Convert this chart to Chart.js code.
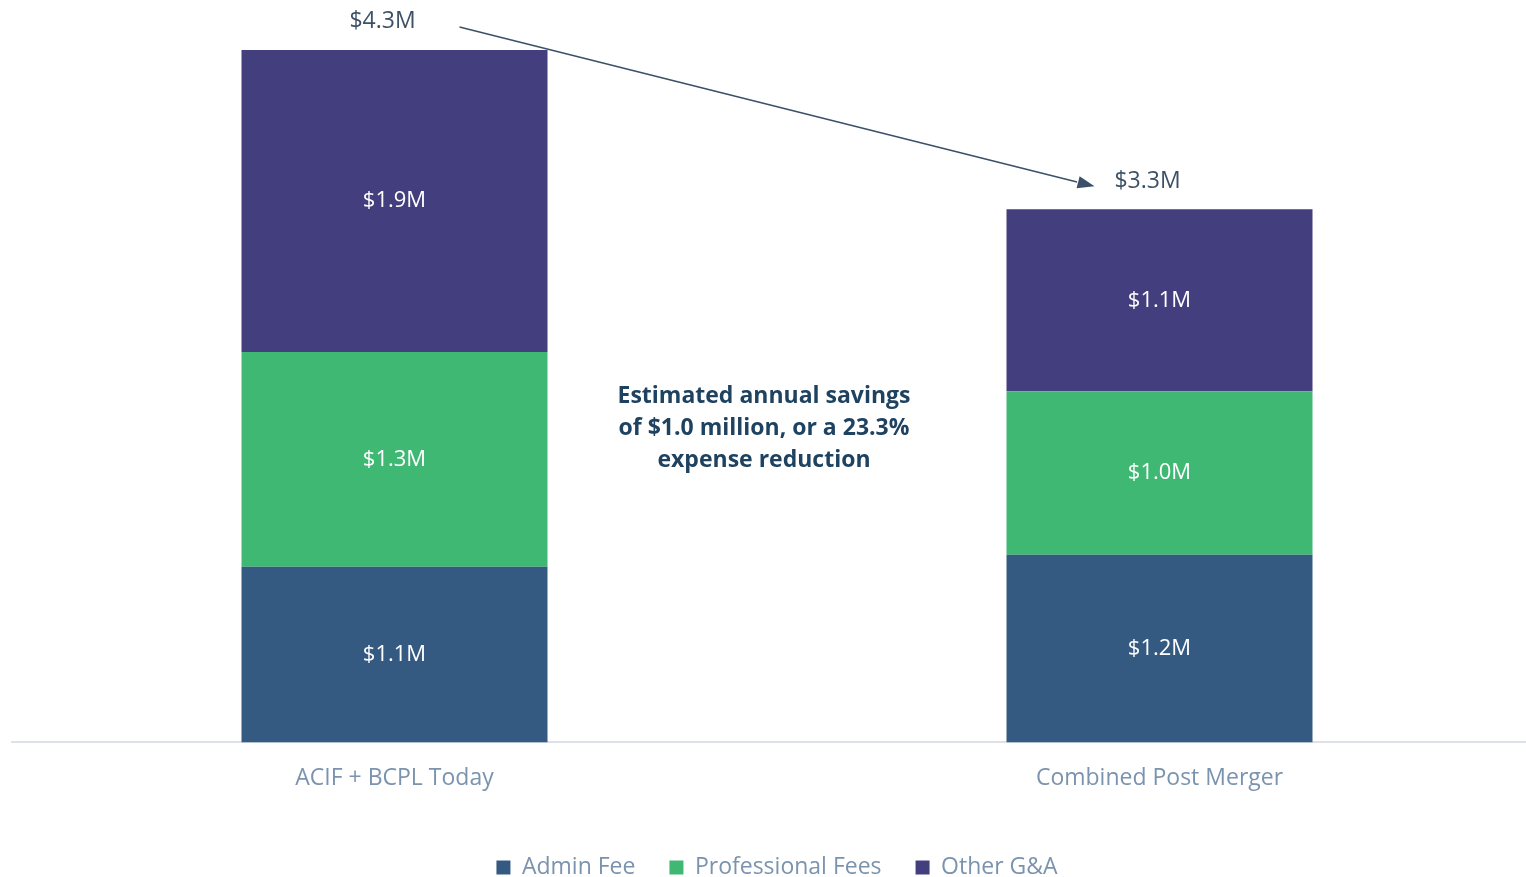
<!DOCTYPE html>
<html>
<head>
<meta charset="utf-8">
<script src="https://cdn.jsdelivr.net/npm/chart.js@4.4.0/dist/chart.umd.min.js"></script>
<style>
  html, body { margin: 0; padding: 0; background: #fff; overflow: hidden; }
  #wrap { position: relative; width: 1545px; height: 889px; }
</style>
</head>
<body>
<div id="wrap"><canvas id="chart"></canvas></div>
<script>
// datos (millones de USD)
const categorias = ['ACIF + BCPL Today', 'Combined Post Merger'];
const adminFee = [1.09, 1.165];
const professionalFees = [1.335, 1.015];
const otherGA = [1.875, 1.13];
const notaAhorro = ['Estimated annual savings', 'of $1.0 million, or a 23.3%', 'expense reduction'];

const FUENTE = "'Open Sans', 'Lato', sans-serif";

const fmt = v => '$' + v.toFixed(1) + 'M';

// etiquetas, totales, flecha y nota
const etiquetasPlugin = {
    id: 'etiquetas',
    afterDatasetsDraw(chart) {
        const ctx = chart.ctx;
        const n = chart.data.datasets.length;
        ctx.save();
        ctx.textAlign = 'center';
        ctx.textBaseline = 'middle';

        // valores dentro de cada segmento
        ctx.font = '22px ' + FUENTE;
        ctx.fillStyle = '#ffffff';
        chart.data.datasets.forEach((ds, i) => {
            chart.getDatasetMeta(i).data.forEach((bar, j) => {
                ctx.fillText(fmt(ds.data[j]), bar.x, (bar.y + bar.base) / 2);
            });
        });

        // totales arriba de cada barra
        const tops = chart.getDatasetMeta(n - 1).data;
        ctx.fillStyle = '#3d5166';
        ctx.font = '23px ' + FUENTE;
        tops.forEach((bar, j) => {
            const total = chart.data.datasets.reduce((s, ds) => s + ds.data[j], 0);
            ctx.fillText(fmt(total), bar.x - 12, bar.y - 28);
        });

        // flecha entre totales
        const x0 = tops[0].x + 65, y0 = tops[0].y - 23;
        const x1 = tops[1].x - 65, y1 = tops[1].y - 23;
        const ang = Math.atan2(y1 - y0, x1 - x0);
        const head = 18;
        ctx.strokeStyle = '#3b5068';
        ctx.lineWidth = 1.5;
        ctx.beginPath();
        ctx.moveTo(x0, y0);
        ctx.lineTo(x1 - head * Math.cos(ang), y1 - head * Math.sin(ang));
        ctx.stroke();
        ctx.fillStyle = '#3b5068';
        ctx.beginPath();
        ctx.moveTo(x1, y1);
        ctx.lineTo(x1 - head * Math.cos(ang - 0.35), y1 - head * Math.sin(ang - 0.35));
        ctx.lineTo(x1 - head * Math.cos(ang + 0.35), y1 - head * Math.sin(ang + 0.35));
        ctx.closePath();
        ctx.fill();

        // nota de ahorro en el centro
        const xs = chart.scales.x, ys = chart.scales.y;
        const cx = (xs.getPixelForValue(0) + xs.getPixelForValue(1)) / 2 - 13;
        const cy = ys.getPixelForValue(1.95);
        ctx.fillStyle = '#1e4260';
        ctx.font = 'bold 23px ' + FUENTE;
        notaAhorro.forEach((linea, k) => {
            ctx.fillText(linea, cx, cy + (k - 1) * 32);
        });
        ctx.restore();
    }
};

new Chart(document.getElementById('chart'), {
    type: 'bar',
    data: {
        labels: categorias,
        datasets: [
            { label: 'Admin Fee', data: adminFee, backgroundColor: '#355a82' },
            { label: 'Professional Fees', data: professionalFees, backgroundColor: '#3fb874' },
            { label: 'Other G&A', data: otherGA, backgroundColor: '#433f7e' }
        ]
    },
    options: {
        responsive: true,
        maintainAspectRatio: false,
        animation: false,
        categoryPercentage: 1,
        barPercentage: 0.4,
        layout: { padding: { left: 12, right: 3, top: 0, bottom: 0 } },
        scales: {
            x: {
                stacked: true,
                grid: { display: false },
                border: { display: true, color: '#dde2e8', width: 2 },
                ticks: { color: '#7a93ae', font: { family: FUENTE, size: 23 }, padding: 14 },
                afterFit(scale) { scale.height += 16; }
            },
            y: {
                stacked: true,
                display: false,
                min: 0,
                max: 4.61
            }
        },
        plugins: {
            legend: {
                position: 'bottom',
                labels: {
                    color: '#7a93ae',
                    font: { family: FUENTE, size: 23 },
                    boxWidth: 14,
                    boxHeight: 14,
                    padding: 34
                }
            },
            tooltip: { enabled: false }
        }
    },
    plugins: [etiquetasPlugin]
});
</script>
</body>
</html>
